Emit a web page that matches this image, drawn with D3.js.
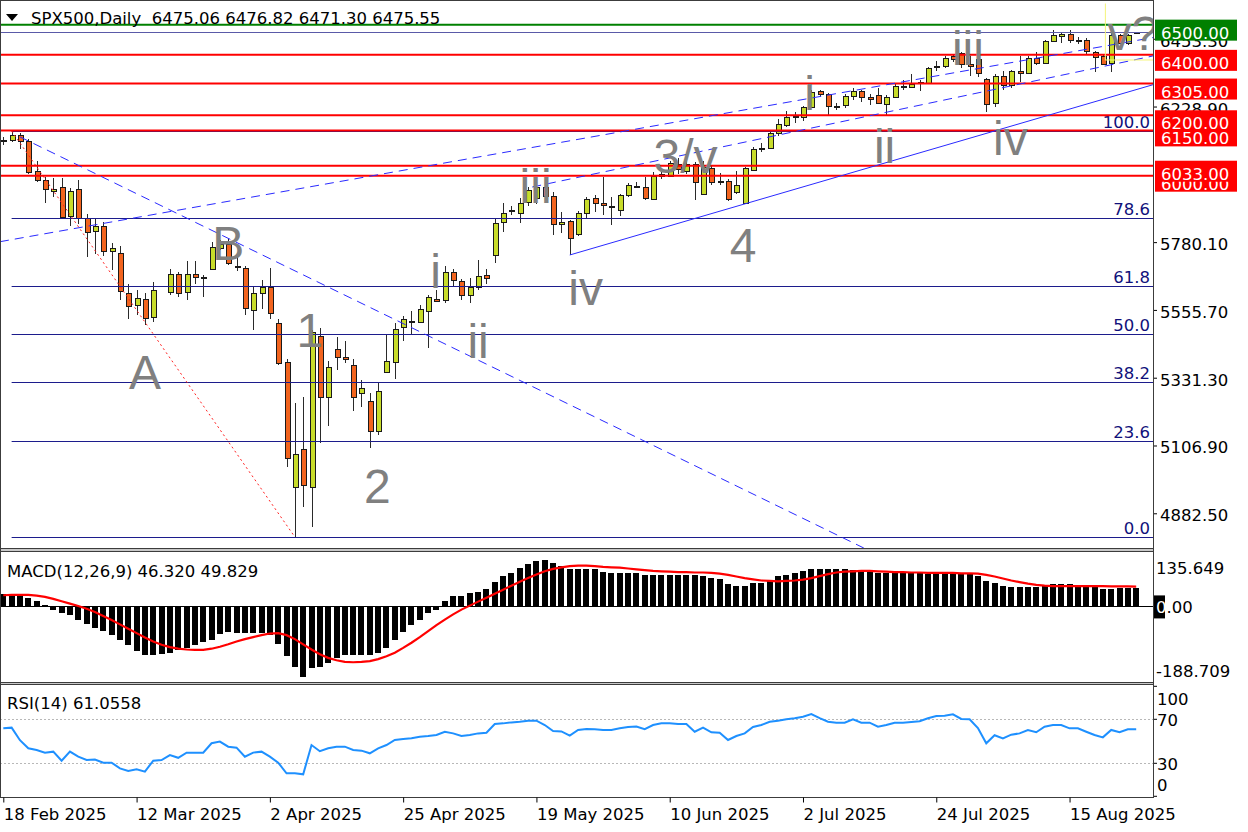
<!DOCTYPE html>
<html><head><meta charset="utf-8">
<script src="https://cdn.jsdelivr.net/npm/d3@7"></script>
<style>
html,body{margin:0;padding:0;background:#fff;}
svg{display:block;font-family:"DejaVu Sans",sans-serif;}
</style></head><body>
<svg id="chart" width="1248" height="832"></svg>
<script>
// ---------------- DATA ----------------
const chartTitle = "SPX500,Daily  6475.06 6476.82 6471.30 6475.55";
const macdTitle = "MACD(12,26,9) 46.320 49.829";
const rsiTitle = "RSI(14) 61.0558";

// daily OHLC, bar index 0 = 18 Feb 2025 ... 136 = 27 Aug 2025 (index 19 is an empty slot)
const openP = [6116,6119,6134,6114,6015,5986,5952,5962,5866,5955,5860,5818,5834,5752,5745,5612,5573,5593,5532,null,
5618,5676,5612,5673,5664,5690,5762,5774,5702,5696,5557,5612,5632,5512,5382,4970,5094,4970,5470,5268,
5425,5400,5372,5280,5254,5154,5349,5383,5500,5520,5515,5552,5592,5588,5680,5652,5605,5632,5670,5740,
5845,5882,5878,5912,5925,5962,5932,5840,5850,5805,5875,5925,5908,5900,5887,5935,5966,5963,5925,6000,
6000,6040,6015,6038,5940,6025,5980,5983,5945,5910,6022,6092,6092,6140,6170,6195,6195,6228,6279,6270,
6228,6232,6263,6280,6262,6268,6240,6262,6297,6296,6308,6310,6360,6363,6395,6405,6370,6385,6320,6240,
6330,6299,6345,6340,6390,6373,6446,6462,6470,6450,6449,6411,6396,6373,6466,6439,6475.06];
const highP = [6128,6148,6140,6122,6048,5995,5992,5993,5960,5986,5874,5855,5846,5778,5766,5640,5620,5612,5648,null,
5690,5682,5718,5716,5672,5780,5788,5790,5736,5702,5630,5655,5695,5525,5392,5247,5267,5489,5495,5386,
5465,5452,5392,5323,5280,5315,5476,5512,5536,5553,5571,5604,5622,5700,5692,5658,5662,5720,5690,5860,
5910,5900,5925,5962,5972,5966,5945,5880,5853,5882,5928,5935,5996,5930,5940,5975,5978,5995,6012,6015,
6050,6060,6048,6045,6050,6032,6010,5990,6015,6030,6095,6108,6145,6187,6215,6210,6232,6285,6284,6275,
6242,6270,6290,6285,6272,6290,6266,6303,6316,6336,6316,6360,6381,6395,6400,6410,6395,6427,6325,6335,
6345,6350,6395,6395,6410,6448,6481,6474,6482,6460,6456,6414,6400,6481,6469,6468,6476.82];
const lowP = [6100,6112,6090,6005,5978,5908,5930,5856,5832,5840,5730,5740,5735,5688,5590,5527,5540,5505,5515,null,
5605,5598,5590,5640,5598,5688,5754,5703,5686,5540,5490,5560,5525,5373,5036,4804,4903,4838,5114,5171,
5357,5380,5220,5233,5100,5142,5348,5327,5452,5473,5512,5430,5582,5580,5630,5590,5580,5620,5640,5710,
5815,5870,5845,5900,5905,5920,5805,5810,5738,5800,5860,5880,5870,5838,5865,5928,5960,5920,5920,5990,
5995,6005,6005,5919,5935,5970,5970,5915,5940,5906,6020,6080,6088,6133,6160,6175,6180,6225,6262,6201,
6218,6225,6252,6245,6235,6238,6200,6258,6285,6294,6281,6305,6348,6358,6375,6355,6330,6327,6210,6228,
6285,6290,6310,6335,6365,6370,6445,6440,6440,6436,6401,6343,6365,6343,6438,6431,6471.30];
const closeP = [6119,6134,6114,6013,5986,5955,5957,5862,5950,5858,5815,5834,5750,5762,5620,5570,5596,5530,5620,null,
5676,5612,5673,5663,5666,5764,5774,5710,5698,5563,5612,5632,5545,5380,5063,5080,4975,5483,5268,5366,
5400,5393,5266,5297,5154,5286,5385,5492,5526,5518,5558,5598,5585,5680,5652,5605,5632,5668,5660,5845,
5876,5886,5910,5953,5962,5932,5840,5848,5793,5875,5922,5908,5902,5899,5935,5968,5966,5927,6000,6005,
6042,6025,6038,5977,6030,5978,5984,5925,5968,6025,6090,6093,6141,6170,6195,6197,6228,6278,6270,6230,
6232,6263,6280,6259,6255,6240,6262,6297,6296,6305,6309,6358,6363,6388,6385,6370,6362,6340,6238,6330,
6299,6345,6340,6389,6373,6446,6467,6469,6450,6449,6411,6396,6370,6466,6439,6466,6475.55];

// MACD main (histogram) and signal line, one value per bar
const macdMain = [30,31,30,22,14,4,-8,-17,-22,-34,-45,-55,-61,-71,-84,-96,-111,-122,-122,-120,
-118,-109,-104,-96,-88,-84,-69,-64,-66,-66,-66,-66,-71,-95,-125,-152,-176,-155,-152,-142,
-130,-122,-122,-122,-123,-116,-104,-84,-64,-46,-34,-17,-8,14,25,26,34,37,44,61,
75,84,96,106,115,117,110,102,94,94,94,93,87,85,85,84,84,79,79,79,
79,79,79,79,76,72,68,55,50,50,58,59,65,75,79,83,89,95,95,94,
94,93,91,89,87,84,84,84,84,83,83,82,82,82,82,82,82,77,64,58,
52,48,48,48,48,50,55,56,55,52,52,52,44,44,45,45,46.32];
const macdSignal = [28,29,29,29,27,24,19,13,7,1,-6,-14,-24,-34,-45,-56,-67,-78,-88,-96,
-102,-106,-108,-109,-109,-106,-101,-95,-88,-82,-77,-72,-68,-67,-72,-82,-95,-108,-120,-129,
-135,-139,-140,-139,-137,-132,-125,-116,-104,-91,-77,-62,-47,-33,-20,-8,2,12,22,32,
42,52,62,71,80,88,94,98,101,102,102,101,99,98,97,95,93,91,89,88,
87,86,86,85,85,84,82,79,75,71,68,65,64,63,64,65,67,71,76,81,
85,87,88,89,89,88,87,86,86,85,85,84,84,84,84,83,83,82,79,75,
70,65,61,57,54,52,51,51,51,51,51,51,51,50,50,50,49.83];
const rsiValues = [61.8,62.4,51,43.6,42.1,39.7,40.6,32.4,40.6,36,33,33.5,30.6,30.6,25.4,23,24.5,22.4,32.4,33,
37.5,35,39.7,39.7,39.7,48.2,49.7,45.1,44.2,36,39.7,40.6,36,30.6,20.9,20.9,20,46.6,41,43.6,
45.1,45.1,42.1,41.5,39.1,43.6,46.6,51.2,52.1,52.7,54.2,54.8,55.7,58.7,57.2,54.8,55.7,57.2,57.8,65.7,
66.3,67.2,67.8,68.7,68.7,64.8,59.4,59,55.1,60.3,61.2,60.9,60.3,60.3,61.8,63,63.5,61,64.8,66.3,
66.3,65.7,65.7,58.7,62.4,58.2,57.8,51.2,54.8,57.2,63,64.8,67.8,68.7,70,70.9,72.4,74.8,71,67.8,
66.9,66.9,70,66.9,66.9,63.3,64.8,66.9,66.9,67.5,68.2,71,73,73.3,74.5,70.3,70,62,48.2,55.5,
52.7,56,57.2,60.3,58.2,63.3,64.8,64.8,61.8,61.8,58.7,55.7,53.6,60.3,58.2,60.9,61.06];

// time axis
const xTickIndex = [0,16,32,48,64,80,96,112,128];
const xTickLabels = ["18 Feb 2025","12 Mar 2025","2 Apr 2025","25 Apr 2025","19 May 2025","10 Jun 2025","2 Jul 2025","24 Jul 2025","15 Aug 2025"];
// price axis (the 6004.50 tick label is fully hidden behind the level tags in the original)
const priceTicks = [4882.5,5106.9,5331.3,5555.7,5780.1,6228.9,6453.3];
const macdAxisValues = [135.649,0,-188.709];
const rsiAxisValues = [100,70,30,0];
const rsiLevels = [70,30];

// horizontal levels
const greenLevels = [6500];
const redLevels = [6150,6200,6000,6033,6305,6400];
const currentPrice = 6475.55;
// Fibonacci retracement (anchors: bar 1 high, bar 35 low)
const fibHigh = 6148, fibLow = 4804, fibStartIndex = 1, fibLowIndex = 35;
const fibRatios = [0,23.6,38.2,50.0,61.8,78.6,100.0];

// trend lines [index1, price1, index2, price2]
const dashedTrendLines = [
  [2.0,6128.5,103.3,4767.6],
  [-0.4,5781.5,138,6457.2],
  [63.5,5962.6,138,6396.3]
];
const solidTrendLines = [[68,5737.5,138,6301]];
// highlight rectangle [index1, price1, index2, price2]
const boxZone = [132.3,6383,138.5,6575];

// Elliott wave labels: text, bar index (centre), price (baseline)
const waveText  = ["A","B","1","2","i","ii","iii","iv","3/v","4","i","ii","iii","iv","v?"];
const waveIndex = [17.0,27.0,36.8,44.9,51.9,57.0,63.9,69.9,81.9,88.8,96.8,105.8,115.8,120.9,135.6];
const wavePrice = [5294,5721,5433,4917,5628,5397,5910,5572,6009,5714,6218,6042,6367,6069,6416];

// ---------------- LAYOUT ----------------
const svg = d3.select("#chart");
const axisX = 1153;
const main = {top:3.5, bottom:548};
const macdP = {top:552.3, bottom:681.7};
const rsiP = {top:686.3, bottom:796.3};
const FONT = "16.5px";

const x = d3.scaleLinear().domain([0,136]).range([3.3,1136.2]);
const yP = d3.scaleLinear().domain([4767.6,6570]).range([main.bottom, main.top]);
const yM = d3.scaleLinear().domain([-188.709,135.649]).range([macdP.bottom, macdP.top]);
const yR = d3.scaleLinear().domain([0,100]).range([rsiP.bottom, rsiP.top]);

svg.append("rect").attr("width",1248).attr("height",832).attr("fill","#fff");

const defs = svg.append("defs");
defs.append("clipPath").attr("id","clipMain").append("rect")
  .attr("x",1).attr("y",main.top).attr("width",axisX-1).attr("height",main.bottom-main.top);
defs.append("clipPath").attr("id","clipMacd").append("rect")
  .attr("x",1).attr("y",macdP.top-1).attr("width",axisX-1).attr("height",macdP.bottom-macdP.top+1);
defs.append("clipPath").attr("id","clipRsi").append("rect")
  .attr("x",1).attr("y",684).attr("width",axisX-1).attr("height",113);

// ---------- MAIN PANEL ----------
const gMain = svg.append("g").attr("clip-path","url(#clipMain)");
const bars = d3.range(openP.length).filter(i => openP[i] !== null);

// candles
const cg = gMain.append("g").attr("shape-rendering","crispEdges");
cg.selectAll("line.wick").data(bars).join("line")
  .attr("x1", i => Math.round(x(i))+0.5).attr("x2", i => Math.round(x(i))+0.5)
  .attr("y1", i => yP(highP[i])).attr("y2", i => yP(lowP[i]))
  .attr("stroke","#2a2a2a").attr("stroke-width",1);
cg.selectAll("rect.body").data(bars).join("rect")
  .attr("x", i => Math.round(x(i))-2)
  .attr("y", i => Math.round(yP(Math.max(openP[i],closeP[i])))+0.5)
  .attr("width",5)
  .attr("height", i => Math.max(1, Math.round(yP(Math.min(openP[i],closeP[i]))-yP(Math.max(openP[i],closeP[i])))))
  .attr("fill", i => closeP[i] >= openP[i] ? "#c8dc2a" : "#f2641e")
  .attr("stroke","#1a1a1a").attr("stroke-width",1);

// fibonacci levels
const fibG = gMain.append("g");
fibRatios.forEach(r => {
  const p = fibLow + (fibHigh-fibLow)*r/100;
  const yy = Math.round(yP(p))+0.5;
  fibG.append("line").attr("x1", x(fibStartIndex)).attr("x2", axisX).attr("y1",yy).attr("y2",yy)
    .attr("stroke","#1c1c8c").attr("stroke-width",1);
  fibG.append("text").attr("x", axisX-3).attr("y", yy-4).attr("text-anchor","end")
    .attr("font-size",FONT).attr("fill","#10107a").text(r.toFixed(1));
});
fibG.append("line").attr("x1",x(fibStartIndex)).attr("y1",yP(fibHigh))
  .attr("x2",x(fibLowIndex)).attr("y2",yP(fibLow))
  .attr("stroke","#ff2020").attr("stroke-width",1).attr("stroke-dasharray","2,3");

// current price line
gMain.append("line").attr("x1",0).attr("x2",axisX)
  .attr("y1",Math.round(yP(currentPrice))+0.5).attr("y2",Math.round(yP(currentPrice))+0.5)
  .attr("stroke","#5a5aa8").attr("stroke-width",1);

// red / green levels
redLevels.forEach(p => {
  gMain.append("line").attr("x1",0).attr("x2",axisX).attr("y1",yP(p)).attr("y2",yP(p))
    .attr("stroke","#ff0000").attr("stroke-width",2);
});
greenLevels.forEach(p => {
  gMain.append("line").attr("x1",0).attr("x2",axisX).attr("y1",yP(p)).attr("y2",yP(p))
    .attr("stroke","#008000").attr("stroke-width",2);
});

// trend lines
dashedTrendLines.forEach(t => {
  gMain.append("line").attr("x1",x(t[0])).attr("y1",yP(t[1])).attr("x2",x(t[2])).attr("y2",yP(t[3]))
    .attr("stroke","#2a2aff").attr("stroke-width",1).attr("stroke-dasharray","9,6");
});
solidTrendLines.forEach(t => {
  gMain.append("line").attr("x1",x(t[0])).attr("y1",yP(t[1])).attr("x2",x(t[2])).attr("y2",yP(t[3]))
    .attr("stroke","#2a2aff").attr("stroke-width",1);
});

// highlight rectangle
gMain.append("rect").attr("x",x(boxZone[0])).attr("y",yP(boxZone[3]))
  .attr("width",x(boxZone[2])-x(boxZone[0])).attr("height",yP(boxZone[1])-yP(boxZone[3]))
  .attr("fill","none").attr("stroke","#f4f47a").attr("stroke-width",1);

// wave labels
gMain.selectAll("text.wave").data(waveText).join("text")
  .attr("x",(d,i)=>x(waveIndex[i])).attr("y",(d,i)=>yP(wavePrice[i]))
  .attr("text-anchor","middle").attr("font-family","'Liberation Sans',Arial,sans-serif")
  .attr("font-size","48px").attr("fill","#808080").text(d=>d);

// header
svg.append("path").attr("d","M6,14 L18,14 L12,21 Z").attr("fill","#000");
svg.append("text").attr("x",31).attr("y",23.5).attr("font-size",FONT).attr("fill","#000")
  .attr("xml:space","preserve").style("white-space","pre").text(chartTitle);

// price axis
const pAxis = svg.append("g").attr("transform",`translate(${axisX},0)`)
  .call(d3.axisRight(yP).tickValues(priceTicks).tickSize(4).tickPadding(3).tickFormat(d3.format(".2f")));
pAxis.select(".domain").remove();
pAxis.selectAll("text").attr("dy",null).attr("y",7.5).attr("font-size",FONT)
  .attr("font-family","'DejaVu Sans',sans-serif").attr("fill","#000");
pAxis.selectAll("line").attr("stroke","#000");

// level price tags
const tagLevels = [...redLevels.map(p=>({p,c:"#ff0000"})), ...greenLevels.map(p=>({p,c:"#008000"}))];
tagLevels.forEach(t => {
  const yy = yP(t.p);
  svg.append("rect").attr("x",axisX+2).attr("y",yy-5).attr("width",82).attr("height",21).attr("fill",t.c);
  svg.append("text").attr("x",axisX+8).attr("y",yy+14).attr("font-size",FONT).attr("fill","#fff")
    .text(t.p.toFixed(2));
});

// ---------- MACD PANEL ----------
const gM = svg.append("g").attr("clip-path","url(#clipMacd)");
gM.append("line").attr("x1",0).attr("x2",axisX).attr("y1",Math.round(yM(0))+0.5).attr("y2",Math.round(yM(0))+0.5)
  .attr("stroke","#000").attr("stroke-width",1);
gM.append("g").attr("shape-rendering","crispEdges").selectAll("rect").data(macdMain).join("rect")
  .attr("x",(d,i)=>Math.round(x(i))-3).attr("width",6)
  .attr("y",d=>yM(Math.max(0,d))).attr("height",d=>Math.abs(yM(d)-yM(0)))
  .attr("fill","#000");
gM.append("path").datum(macdSignal)
  .attr("d", d3.line().x((d,i)=>x(i)).y(d=>yM(d)))
  .attr("fill","none").attr("stroke","#ff0000").attr("stroke-width",2.2);
svg.append("text").attr("x",7).attr("y",576.5).attr("font-size",FONT).text(macdTitle);
svg.append("rect").attr("x",axisX+1).attr("y",yM(0)-11).attr("width",11).attr("height",23).attr("fill","#000");
macdAxisValues.forEach(v => {
  const yy = Math.min(Math.max(yM(v)+6.5, macdP.top+22), macdP.bottom-4.5);
  const t = svg.append("text").attr("x",axisX+3).attr("y",yy).attr("font-size",FONT);
  const s = v===0 ? "0.00" : v.toFixed(3);
  if (v===0) {
    t.append("tspan").attr("fill","#fff").text(s[0]);
    t.append("tspan").attr("fill","#000").text(s.slice(1));
  } else t.attr("fill","#000").text(s);
});

// ---------- RSI PANEL ----------
const gR = svg.append("g").attr("clip-path","url(#clipRsi)");
rsiLevels.forEach(l => {
  gR.append("line").attr("x1",0).attr("x2",axisX).attr("y1",Math.round(yR(l))+0.5).attr("y2",Math.round(yR(l))+0.5)
    .attr("stroke","#b8b8b8").attr("stroke-width",1).attr("stroke-dasharray","2,2");
});
gR.append("path").datum(rsiValues)
  .attr("d", d3.line().x((d,i)=>x(i)).y(d=>yR(d)))
  .attr("fill","none").attr("stroke","#1e90ff").attr("stroke-width",2);
svg.append("text").attr("x",7).attr("y",708.5).attr("font-size",FONT).text(rsiTitle);
rsiAxisValues.forEach(v => {
  const yy = Math.min(Math.max(yR(v)+7, rsiP.top+19), rsiP.bottom-5);
  svg.append("line").attr("x1",axisX).attr("x2",axisX+4).attr("y1",yR(v)).attr("y2",yR(v)).attr("stroke","#000");
  svg.append("text").attr("x",axisX+4).attr("y",yy).attr("font-size",FONT).text(v);
});

// ---------- FRAMES ----------
const fr = svg.append("g").attr("shape-rendering","crispEdges");
fr.append("rect").attr("x",0).attr("y",548).attr("width",axisX).attr("height",4).attr("fill","#c8c8c8");
fr.append("rect").attr("x",0).attr("y",682).attr("width",axisX).attr("height",3).attr("fill","#c8c8c8");
[[0.5,0.5,axisX+0.5,0.5],[0.5,548.5,axisX,548.5],[0.5,551.5,axisX,551.5],[0.5,682.5,axisX,682.5],[0.5,684.5,axisX,684.5],[0.5,797.5,axisX+0.5,797.5]]
  .forEach(l => fr.append("line").attr("x1",l[0]).attr("y1",l[1]).attr("x2",l[2]).attr("y2",l[3]).attr("stroke","#3c3c3c"));
fr.append("line").attr("x1",0.5).attr("x2",0.5).attr("y1",0).attr("y2",798).attr("stroke","#3c3c3c");
fr.append("line").attr("x1",axisX+0.5).attr("x2",axisX+0.5).attr("y1",0).attr("y2",798).attr("stroke","#3c3c3c");

// time axis
const xAxis = svg.append("g").attr("transform","translate(0,797.5)")
  .call(d3.axisBottom(x).tickValues(xTickIndex).tickSize(5).tickFormat((d,i)=>xTickLabels[i]));
xAxis.select(".domain").remove();
xAxis.selectAll("line").attr("stroke","#000");
xAxis.selectAll("text").attr("dy",null).attr("y",22.5).attr("text-anchor","start").attr("x",0)
  .attr("font-size",FONT).attr("font-family","'DejaVu Sans',sans-serif").attr("fill","#000");
</script>
</body></html>
